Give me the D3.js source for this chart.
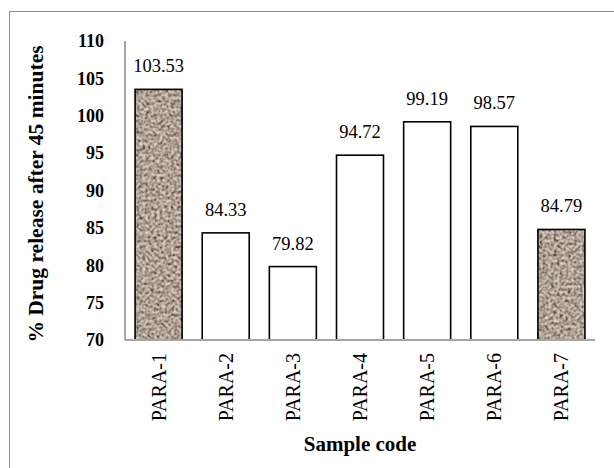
<!DOCTYPE html>
<html><head><meta charset="utf-8">
<script src="https://cdn.jsdelivr.net/npm/d3@7"></script>
<style>body{margin:0;background:#fff}svg{display:block}</style>
</head><body>
<script>
const categories = ["PARA-1","PARA-2","PARA-3","PARA-4","PARA-5","PARA-6","PARA-7"];
const values = [103.53, 84.33, 79.82, 94.72, 99.19, 98.57, 84.79];
const textured = [true, false, false, false, false, false, true];
const yTicks = [70,75,80,85,90,95,100,105,110];
const yTitle = "% Drug release after 45 minutes";
const xTitle = "Sample code";

const FONT = "Liberation Serif";
const W = 614, H = 468;
const svg = d3.select("body").append("svg").attr("width", W).attr("height", H);
const defs = svg.append("defs");
const f = defs.append("filter").attr("id","grain").attr("x","0").attr("y","0").attr("width","1").attr("height","1");
f.append("feTurbulence").attr("type","fractalNoise").attr("baseFrequency","0.28").attr("numOctaves","2").attr("seed","3").attr("result","n");
f.append("feColorMatrix").attr("in","n").attr("type","matrix")
 .attr("values","0 0 0 0 0  0 0 0 0 0  0 0 0 0 0  2.4 0 0 0 -0.75").attr("result","a");
f.append("feFlood").attr("flood-color","#5a4a3e").attr("result","dark");
f.append("feComposite").attr("in","dark").attr("in2","a").attr("operator","in").attr("result","spots");
f.append("feTurbulence").attr("type","fractalNoise").attr("baseFrequency","0.35").attr("numOctaves","1").attr("seed","11").attr("result","n2");
f.append("feColorMatrix").attr("in","n2").attr("type","matrix")
 .attr("values","0 0 0 0 0  0 0 0 0 0  0 0 0 0 0  2.4 0 0 0 -0.85").attr("result","a2");
f.append("feFlood").attr("flood-color","#ddd2c6").attr("result","light");
f.append("feComposite").attr("in","light").attr("in2","a2").attr("operator","in").attr("result","lspots");
f.append("feMerge").selectAll("feMergeNode").data(["SourceGraphic","spots","lspots"]).join("feMergeNode").attr("in",d=>d);

// outer border
svg.append("rect").attr("x",9.5).attr("y",11.5).attr("width",700).attr("height",600)
  .attr("fill","none").attr("stroke","#8c8c8c").attr("stroke-width",1);

const x0 = 125, x1 = 595, yTop = 41, yBot = 340;
const x = d3.scaleBand().domain(categories).range([x0, x1]).paddingInner(0.3).paddingOuter(0.15);
const y = d3.scaleLinear().domain([70,110]).range([yBot, yTop]);

// y tick labels
const yAxis = d3.axisLeft(y).tickValues(yTicks).tickSize(0).tickPadding(21);
const gy = svg.append("g").attr("transform",`translate(${x0},0)`).call(yAxis).attr("font-family",FONT);
gy.select(".domain").remove();
gy.selectAll("text").attr("font-family",FONT).attr("font-size",18).attr("font-weight","bold").attr("fill","#000");

// bars
const bars = svg.append("g");
bars.selectAll("rect.fill").data(categories).join("rect")
  .attr("x", d=>x(d)).attr("width", x.bandwidth())
  .attr("y", (d,i)=>y(values[i])).attr("height",(d,i)=>yBot - y(values[i]))
  .attr("fill",(d,i)=>textured[i] ? "#a69685" : "#fff")
  .attr("filter",(d,i)=>textured[i] ? "url(#grain)" : null);
bars.selectAll("rect.out").data(categories).join("rect")
  .attr("x", d=>x(d)).attr("width", x.bandwidth())
  .attr("y", (d,i)=>y(values[i])).attr("height",(d,i)=>yBot - y(values[i]))
  .attr("fill","none").attr("stroke","#000").attr("stroke-width",1.6);

// axis lines
svg.append("line").attr("x1",x0).attr("x2",x0).attr("y1",yTop).attr("y2",yBot).attr("stroke","#a6a6a6").attr("stroke-width",2);
svg.append("line").attr("x1",x0).attr("x2",x1).attr("y1",yBot).attr("y2",yBot).attr("stroke","#a6a6a6").attr("stroke-width",2);

// value labels
svg.append("g").selectAll("text").data(categories).join("text")
  .attr("x", d=>x(d)+x.bandwidth()/2).attr("y",(d,i)=>y(values[i])-17)
  .attr("text-anchor","middle").attr("font-family",FONT).attr("font-size",18.5).attr("fill","#000")
  .text((d,i)=>values[i].toFixed(2));

// x tick labels rotated
const xAxis = d3.axisBottom(x).tickSize(0).tickPadding(0);
const gx = svg.append("g").attr("transform",`translate(0,${yBot})`).call(xAxis).attr("font-family",FONT);
gx.select(".domain").remove();
gx.selectAll("text").attr("font-family",FONT).attr("font-size",20).attr("fill","#000")
  .attr("transform","rotate(-90)").attr("text-anchor","end").attr("x",-13).attr("y",0).attr("dy","0.35em");

// titles
svg.append("text").attr("transform","translate(43,194) rotate(-90)").attr("text-anchor","middle")
  .attr("font-family",FONT).attr("font-size",21.5).attr("font-weight","bold").attr("fill","#000").text(yTitle);
svg.append("text").attr("x",360).attr("y",451).attr("text-anchor","middle")
  .attr("font-family",FONT).attr("font-size",21).attr("font-weight","bold").attr("fill","#000").text(xTitle);
</script>
</body></html>
